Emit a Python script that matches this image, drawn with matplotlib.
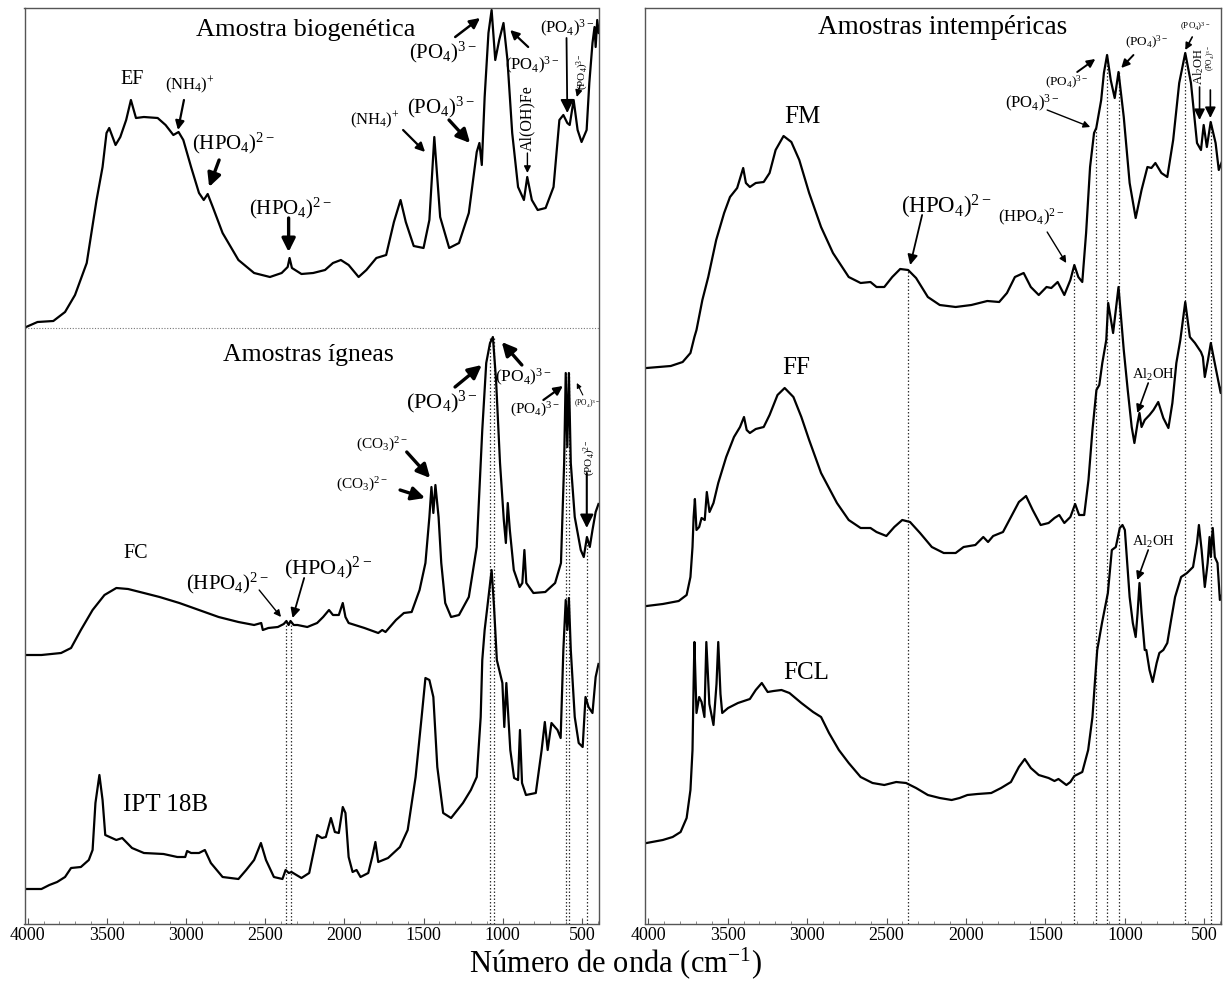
import matplotlib
matplotlib.use('Agg')
import matplotlib.pyplot as plt
from matplotlib.ticker import MultipleLocator

plt.rcParams['font.family'] = ['Liberation Serif', 'DejaVu Serif']
plt.rcParams['mathtext.fontset'] = 'custom'
plt.rcParams['mathtext.rm'] = 'Liberation Serif'
plt.rcParams['mathtext.it'] = 'Liberation Serif:italic'
plt.rcParams['mathtext.bf'] = 'Liberation Serif:bold'

# ---- espectros (numero de onda, intensidade deslocada em u.a.) ----
# Amostra biogenetica
ef_wn = [4010, 3938, 3838, 3764, 3701, 3627, 3565, 3527, 3502, 3485, 3445, 3415, 3378, 3348, 3316,
         3266, 3179, 3129, 3080, 3047, 3017, 2968, 2918, 2888, 2863, 2831, 2769, 2669, 2570, 2470,
         2396, 2358, 2346, 2331, 2271, 2197, 2122, 2072, 2022, 1973, 1910, 1861, 1798, 1736, 1687,
         1645, 1612, 1562, 1500, 1463, 1432, 1395, 1338, 1276, 1214, 1164, 1147, 1132, 1114, 1090,
         1070, 1047, 1022, 995, 970, 940, 903, 866, 845, 816, 779, 729, 679, 642, 617, 592, 577,
         552, 527, 502, 470, 453, 433, 420, 413, 403, 393]
ef_val = [597, 602, 603, 612, 629, 661, 724, 757, 791, 796, 779, 787, 804, 824, 806,
          807, 806, 799, 789, 792, 784, 757, 731, 724, 730, 717, 691, 664, 651, 647,
          651, 657, 666, 656, 650, 651, 654, 661, 664, 659, 647, 654, 666, 669, 702,
          724, 702, 678, 676, 704, 787, 707, 676, 681, 711, 772, 781, 759, 827, 891,
          914, 864, 884, 901, 864, 791, 737, 724, 747, 724, 714, 716, 737, 804, 809, 801, 799,
          824, 794, 782, 794, 841, 881, 897, 877, 904, 891]

# Amostras igneas
fc_wn = [4010, 3913, 3789, 3726, 3664, 3590, 3515, 3440, 3366, 3266, 3167, 3042, 2918, 2794, 2669,
         2570, 2525, 2515, 2480, 2420, 2383, 2366, 2352, 2340, 2320, 2296, 2234, 2172, 2134, 2097,
         2072, 2035, 2010, 1993, 1973, 1873, 1786, 1761, 1740, 1674, 1624, 1575, 1525, 1488, 1463,
         1450, 1438, 1425, 1405, 1388, 1363, 1326, 1276, 1214, 1164, 1129, 1104, 1080, 1062, 1042,
         1017, 993, 980, 968, 955, 930, 893, 876, 863, 851, 806, 731, 669, 632, 612, 602, 592,
         582, 570, 545, 507, 488, 468, 450, 433, 413, 395]
fc_val = [269, 269, 271, 276, 294, 314, 329, 336, 335, 331, 327, 321, 314, 307, 302,
          299, 301, 294, 296, 297, 300, 303, 299, 303, 299, 299, 297, 301, 307, 314,
          309, 309, 321, 307, 301, 296, 291, 294, 292, 304, 311, 312, 334, 361, 407,
          437, 411, 439, 407, 361, 321, 307, 309, 327, 377, 494, 561, 581, 587, 544,
          461, 404, 381, 421, 394, 354, 337, 341, 374, 341, 331, 332, 341, 361, 461, 551, 477,
          551, 461, 407, 374, 367, 387, 377, 394, 412, 420]

ipt_wn = [4010, 3913, 3863, 3814, 3764, 3726, 3664, 3614, 3590, 3572, 3547, 3527, 3510, 3440, 3403,
          3341, 3266, 3142, 3055, 3005, 2993, 2968, 2918, 2881, 2843, 2769, 2669, 2620, 2570, 2527,
          2495, 2445, 2391, 2371, 2351, 2334, 2271, 2222, 2172, 2142, 2117, 2085, 2060, 2035, 2010,
          1993, 1973, 1948, 1923, 1898, 1849, 1824, 1804, 1786, 1724, 1649, 1600, 1550, 1512, 1488,
          1463, 1438, 1413, 1376, 1326, 1251, 1201, 1164, 1139, 1129, 1114, 1097, 1070, 1055, 1037,
          1002, 990, 977, 952, 928, 903, 891, 878, 853, 791, 754, 734, 716, 692, 654, 634, 617,
          602, 592, 582, 570, 545, 520, 495, 477, 458, 433, 413, 395]
ipt_val = [35, 35, 39, 42, 47, 56, 57, 64, 74, 121, 149, 124, 89, 84, 86,
           76, 71, 70, 67, 67, 73, 71, 71, 74, 61, 47, 45, 54, 64, 81,
           64, 47, 45, 54, 51, 52, 46, 51, 89, 86, 87, 106, 92, 91, 117,
           111, 67, 52, 54, 47, 51, 67, 82, 62, 66, 77, 94, 147, 207, 246,
           244, 227, 157, 111, 106, 121, 134, 147, 207, 264, 294, 317, 354, 318, 264,
           241, 197, 241, 174, 146, 144, 194, 141, 129, 131, 174, 202, 174, 201, 194, 186, 274,
           324, 294, 326, 274, 207, 181, 177, 227, 217, 211, 247, 260]

# Amostras intempericas
fm_wn = [4010, 3858, 3783, 3734, 3709, 3696, 3659, 3622, 3572, 3522, 3485, 3440, 3402, 3385, 3360,
         3323, 3273, 3236, 3198, 3148, 3099, 3049, 2987, 2912, 2837, 2738, 2663, 2601, 2563, 2514,
         2464, 2414, 2364, 2314, 2240, 2165, 2065, 1966, 1866, 1791, 1742, 1692, 1637, 1592, 1542,
         1493, 1463, 1423, 1381, 1343, 1318, 1293, 1268, 1244, 1219, 1194, 1180, 1149, 1132, 1112,
         1089, 1064, 1040, 1007, 970, 932, 895, 858, 833, 808, 770, 733, 696, 658, 620, 584,
         546, 521, 504, 484, 460, 429, 409, 385]
fm_val = [556, 558, 562, 571, 587, 594, 624, 647, 684, 711, 727, 736, 756, 741, 737,
          741, 742, 751, 774, 788, 782, 764, 731, 697, 671, 647, 641, 642, 637, 637,
          647, 655, 654, 646, 627, 619, 617, 619, 623, 622, 631, 647, 651, 637, 629,
          637, 636, 642, 629, 644, 659, 647, 642, 691, 757, 791, 796, 824, 851, 869,
          844, 826, 852, 807, 741, 706, 734, 757, 756, 761, 751, 747, 784, 841, 871, 841,
          781, 774, 799, 777, 802, 781, 754, 764]

ff_wn = [4010, 3908, 3808, 3758, 3734, 3721, 3714, 3706, 3696, 3679, 3664, 3644, 3631, 3614, 3589,
         3559, 3509, 3460, 3422, 3397, 3380, 3360, 3323, 3273, 3236, 3186, 3141, 3086, 3036, 2987,
         2912, 2812, 2738, 2663, 2601, 2563, 2501, 2451, 2401, 2352, 2289, 2215, 2140, 2065, 2015,
         1941, 1891, 1861, 1829, 1767, 1717, 1667, 1622, 1580, 1530, 1480, 1443, 1413, 1381, 1343,
         1313, 1288, 1256, 1229, 1204, 1179, 1161, 1142, 1117, 1105, 1074, 1040, 1007, 982, 957,
         940, 920, 908, 895, 875, 845, 820, 790, 758, 726, 701, 676, 651, 620, 591, 559, 521,
         509, 497, 477, 459, 442, 422, 397, 385]
ff_val = [318, 320, 323, 329, 347, 377, 407, 425, 394, 397, 406, 404, 432, 412, 421,
          441, 467, 487, 497, 507, 494, 491, 495, 497, 509, 529, 536, 527, 507, 484,
          451, 421, 404, 396, 396, 392, 388, 397, 404, 402, 391, 377, 371, 371, 377,
          379, 387, 382, 388, 392, 407, 422, 428, 414, 399, 401, 406, 409, 401, 407,
          420, 409, 409, 444, 494, 534, 539, 561, 584, 621, 591, 637, 574, 534, 497,
          481, 501, 511, 497, 504, 509, 514, 522, 506, 496, 521, 561, 584, 622, 587, 581, 572,
          567, 547, 564, 581, 567, 551, 531, 541]

fcl_wn = [4010, 3908, 3846, 3796, 3758, 3734, 3721, 3714, 3709, 3696, 3679, 3664, 3646, 3634, 3615,
          3589, 3570, 3559, 3545, 3534, 3497, 3435, 3360, 3323, 3285, 3248, 3211, 3161, 3111, 3036,
          2962, 2912, 2862, 2800, 2738, 2663, 2588, 2514, 2439, 2377, 2314, 2240, 2165, 2090, 2040,
          1991, 1928, 1841, 1779, 1717, 1667, 1630, 1592, 1542, 1480, 1443, 1418, 1393, 1368, 1343,
          1318, 1268, 1231, 1204, 1189, 1174, 1144, 1107, 1082, 1057, 1032, 1015, 1000, 970, 950,
          932, 920, 908, 895, 875, 865, 845, 825, 800, 783, 758, 733, 709, 684, 646, 609, 571,
          546, 534, 517, 497, 479, 467, 459, 447, 434, 417, 402, 385]
fcl_val = [81, 84, 87, 92, 106, 134, 174, 241, 282, 211, 227, 222, 207, 282, 220,
           199, 240, 282, 230, 211, 216, 221, 225, 234, 241, 232, 233, 234, 231, 221,
           212, 207, 191, 174, 161, 147, 141, 139, 142, 141, 136, 129, 126, 124, 126,
           129, 130, 131, 136, 142, 157, 165, 156, 149, 146, 143, 145, 142, 139, 142,
           148, 152, 174, 207, 241, 274, 301, 331, 374, 377, 396, 399, 394, 327, 301,
           287, 311, 341, 311, 274, 274, 254, 242, 261, 271, 274, 281, 304, 327, 347, 351, 357,
           381, 399, 374, 337, 361, 387, 367, 396, 367, 361, 324, 331]

# linhas pontilhadas de referencia (numero de onda, altura ate onde sobem)
left_ref_wn = [2366, 2340, 1078, 1052, 602, 582, 469]
left_ref_top = [302, 302, 587, 587, 551, 551, 387]
right_ref_wn = [2364, 1318, 1180, 1112, 1040, 620, 460]
right_ref_top = [654, 659, 796, 869, 852, 871, 802]
sep_level = 596

major_ticks = [4000, 3500, 3000, 2500, 2000, 1500, 1000, 500]

PO3 = r'(PO$_4$)$^{3-}$'
PO2 = r'(PO$_4$)$^{2-}$'
HPO = r'(HPO$_4$)$^{2-}$'
NH4 = r'(NH$_4$)$^{+}$'
CO3 = r'(CO$_3$)$^{2-}$'
AL2 = r'Al$_2$OH'

# ---- figura ----
fig = plt.figure(figsize=(12.29, 9.81), dpi=100)
axL = fig.add_axes([24.5 / 1229, 57 / 981, 574 / 1229, 916 / 981])
axR = fig.add_axes([645 / 1229, 57 / 981, 576 / 1229, 916 / 981])

for ax in (axL, axR):
    ax.set_xlim(4020, 395)
    ax.set_ylim(0, 916)
    ax.set_xticks(major_ticks)
    ax.xaxis.set_minor_locator(MultipleLocator(100))
    ax.set_yticks([])
    ax.tick_params(axis='x', which='major', direction='in', length=4, labelsize=13, pad=2, color='#555555')
    ax.tick_params(axis='x', which='minor', direction='in', length=2, color='#777777')
    for s in ax.spines.values():
        s.set_color('#555555')
        s.set_linewidth(1.0)

lw = 1.6
axL.plot(ef_wn, ef_val, color='black', lw=lw)
axL.plot(fc_wn, fc_val, color='black', lw=lw)
axL.plot(ipt_wn, ipt_val, color='black', lw=lw)
axR.plot(fm_wn, fm_val, color='black', lw=lw)
axR.plot(ff_wn, ff_val, color='black', lw=lw)
axR.plot(fcl_wn, fcl_val, color='black', lw=lw)

for w, t in zip(left_ref_wn, left_ref_top):
    axL.plot([w, w], [0, t], color='#333333', lw=0.9, ls=(0, (1.2, 1.6)), zorder=0)
for w, t in zip(right_ref_wn, right_ref_top):
    axR.plot([w, w], [0, t], color='#333333', lw=0.9, ls=(0, (1.2, 1.6)), zorder=0)
axL.axhline(sep_level, color='#777777', lw=0.8, ls=(0, (1, 1.5)))

bold = dict(arrowstyle='-|>', color='black', lw=2.4, mutation_scale=20, shrinkA=0, shrinkB=0)
thin = dict(arrowstyle='-|>', color='black', lw=1.0, mutation_scale=10, shrinkA=0, shrinkB=0)


def label(ax, s, x, y, size, rot=0):
    ax.text(x, y, s, fontsize=size, ha='center', va='center', rotation=rot)


def arrow(ax, tail, tip, props):
    ax.annotate('', xy=tip, xytext=tail, arrowprops=props)


# painel esquerdo - biogenetica
label(axL, 'Amostra biogenética', 2242, 894, 19)
label(axL, 'EF', 3341, 844, 14.5)
label(axL, NH4, 2974, 839, 12)
arrow(axL, (3013, 824), (3051, 794), thin | dict(lw=1.6, mutation_scale=13))
label(axL, HPO, 2703, 781, 15)
arrow(axL, (2791, 764), (2854, 737), bold)
label(axL, HPO, 2343, 716, 15)
arrow(axL, (2352, 706), (2352, 672), bold)
label(axL, NH4, 1806, 804, 12)
arrow(axL, (1629, 794), (1490, 772), thin | dict(lw=1.6, mutation_scale=13))
label(axL, PO3, 1389, 817, 15)
arrow(axL, (1339, 804), (1206, 781), bold)
label(axL, PO3, 1376, 872, 15)
arrow(axL, (1300, 887), (1143, 906), thin | dict(lw=1.8, mutation_scale=15))
label(axL, PO3, 814, 859, 12)
arrow(axL, (839, 877), (953, 894), thin | dict(lw=1.6, mutation_scale=13))
label(axL, 'Al(OH)Fe', 844, 806, 11.5, rot=90)
arrow(axL, (844, 771), (844, 751), thin)
label(axL, PO3, 595, 896, 12)
arrow(axL, (597, 886), (592, 811), bold | dict(lw=1.3))
label(axL, PO3, 494, 852, 8, rot=90)
arrow(axL, (511, 839), (532, 827), thin)

# painel esquerdo - igneas
label(axL, 'Amostras ígneas', 2229, 569, 18.5)
label(axL, 'FC', 3315, 371, 14.5)
label(axL, 'IPT 18B', 3126, 119, 18)
label(axL, HPO, 2741, 341, 15)
arrow(axL, (2538, 334), (2400, 307), thin)
label(axL, HPO, 2103, 356, 16)
arrow(axL, (2254, 346), (2327, 306), thin | dict(lw=1.3, mutation_scale=14))
label(axL, CO3, 1765, 479, 11)
arrow(axL, (1606, 472), (1458, 446), bold)
label(axL, CO3, 1890, 439, 11)
arrow(axL, (1648, 434), (1490, 426), bold)
label(axL, PO3, 1385, 522, 16)
arrow(axL, (1301, 537), (1132, 559), bold)
label(axL, PO3, 869, 547, 12.5)
arrow(axL, (879, 559), (1006, 582), bold)
label(axL, PO3, 795, 514, 11)
arrow(axL, (743, 524), (620, 538), thin | dict(lw=1.6, mutation_scale=13))
label(axL, PO3, 469, 520, 5.5)
arrow(axL, (494, 529), (532, 541), thin | dict(lw=0.8, mutation_scale=7))
label(axL, PO2, 452, 466, 8, rot=90)
arrow(axL, (469, 451), (469, 396), bold | dict(lw=1.5))

# painel direito - intempericas
label(axR, 'Amostras intempéricas', 2150, 896, 19.5)
label(axR, 'FM', 3031, 807, 18)
label(axR, 'FF', 3069, 556, 18)
label(axR, 'FCL', 3006, 251, 18)
label(axR, HPO, 2125, 717, 16.5)
arrow(axR, (2276, 709), (2351, 659), thin | dict(lw=1.3, mutation_scale=15))
label(axR, HPO, 1589, 707, 12)
arrow(axR, (1489, 692), (1369, 661), thin)
label(axR, PO3, 1585, 821, 12)
arrow(axR, (1489, 814), (1218, 797), thin)
label(axR, PO3, 1363, 842, 9.5)
arrow(axR, (1300, 852), (1186, 865), thin | dict(lw=1.4, mutation_scale=12))
label(axR, PO3, 859, 882, 9.5)
arrow(axR, (946, 869), (1023, 856), thin | dict(lw=1.4, mutation_scale=12))
label(axR, PO3, 557, 897, 6.5)
arrow(axR, (576, 887), (620, 874), thin | dict(lw=1.2, mutation_scale=10))
label(axR, AL2, 533, 857, 9, rot=90)
arrow(axR, (530, 837), (530, 804), bold | dict(lw=1.2, mutation_scale=16))
label(axR, PO3, 460, 866, 5.5, rot=90)
arrow(axR, (462, 834), (462, 806), bold | dict(lw=1.2, mutation_scale=16))
label(axR, AL2, 821, 549, 10.5)
arrow(axR, (853, 541), (922, 511), thin | dict(lw=1.2, mutation_scale=12))
label(axR, AL2, 821, 382, 10.5)
arrow(axR, (853, 374), (922, 344), thin | dict(lw=1.2, mutation_scale=12))

fig.text(615 / 1229, 1 - 963 / 981, 'Número de onda (cm$^{-1}$)', fontsize=22, ha='center', va='center')

fig.savefig('out.png', dpi=100, facecolor='white')
